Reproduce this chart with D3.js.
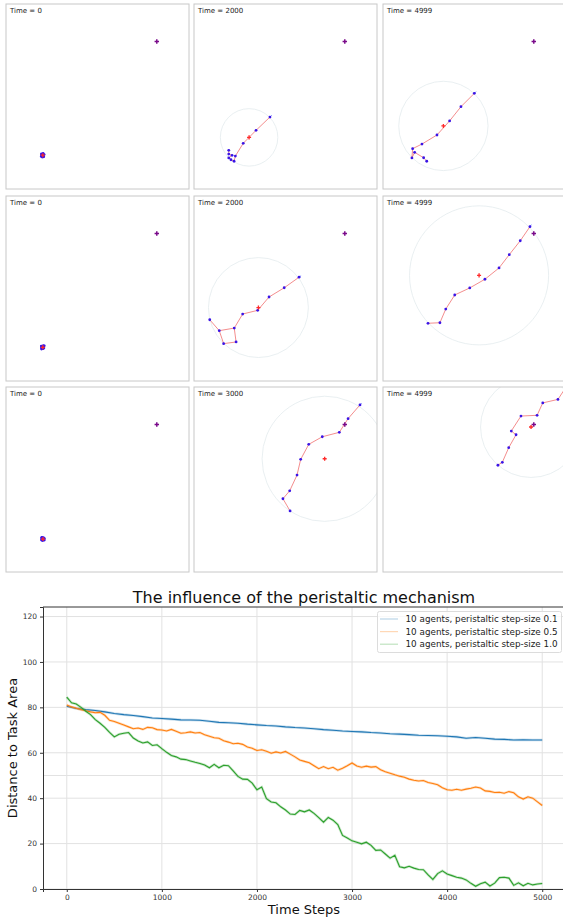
<!DOCTYPE html>
<html>
<head>
<meta charset="utf-8">
<script src="https://cdnjs.cloudflare.com/ajax/libs/d3/7.8.5/d3.min.js"></script>
<style>
body { margin: 0; background: #fff; }
svg { display: block; font-family: "DejaVu Sans", sans-serif; }
</style>
</head>
<body>
<div id="chart"></div>
<script>
var width = 563
var height = 920

// ---- snapshot panels (world coords 0-100) ----
var panel_times = [0, 2000, 4999, 0, 2000, 4999, 0, 3000, 4999]
var task_position = [82.4, 79.7]

var agents_p1 = [[19.4,19.0],[20.3,19.2],[20.8,18.6],[19.6,18.2],[20.5,17.8],[19.3,17.6],[20.1,18.5],[20.6,17.4],[19.8,17.3],[19.5,18.7]]
var agents_p2 = [[41.5,38.9],[33.9,31.7],[26.9,24.7],[22.6,17.8],[21.9,15.0],[20.2,15.8],[19.0,16.8],[20.8,18.2],[19.0,18.9],[19.0,20.9]]
var agents_p3 = [[49.9,51.7],[42.6,44.5],[36.4,36.8],[29.5,29.2],[21.3,24.3],[16.2,21.8],[15.8,16.8],[17.3,19.8],[22.2,16.9],[23.9,15.0]]
var agents_p4 = [[19.3,18.9],[20.4,18.4],[20.9,19.0],[19.6,17.9],[20.2,17.5],[19.4,17.3],[20.7,17.8],[19.9,18.6],[20.4,19.1],[19.5,18.3]]
var agents_p5 = [[57.4,56.1],[49.3,50.4],[41.0,45.4],[34.8,38.2],[26.6,36.2],[22.0,28.6],[23.0,21.1],[16.2,20.2],[13.8,27.2],[8.6,33.1]]
var agents_p6 = [[80.3,83.4],[75.0,75.8],[69.0,68.3],[63.4,61.1],[55.7,55.0],[47.4,50.3],[39.2,46.5],[34.3,38.9],[31.1,31.5],[24.6,31.2]]
var agents_p7 = [[19.5,18.4],[20.4,18.6],[21.0,18.0],[20.8,17.2],[20.0,17.0],[19.4,17.3],[19.7,17.9],[20.5,17.7],[20.2,18.3],[19.6,18.7]]
var agents_p8 = [[90.7,90.3],[84.2,82.9],[79.4,75.5],[70.1,73.1],[62.7,69.0],[58.3,60.9],[56.3,52.4],[52.3,43.9],[48.6,39.6],[52.5,33.0]]
var agents_p9 = [[101.1,101.6],[95.6,93.3],[87.3,91.4],[84.2,84.7],[75.4,84.3],[70.1,76.2],[72.7,74.2],[68.7,67.2],[65.2,59.3],[62.8,57.7]]

var swarm_centres = [[20.1,18.3],[30.1,27.9],[33.0,34.1],[20.1,18.2],[35.2,39.7],[52.5,57.1],[20.2,17.8],[71.4,61.2],[80.9,78.4]]
var swarm_radii = [1.2, 15.7, 24.4, 1.1, 27.3, 38.0, 1.0, 34.2, 27.6]
var extra_links = [[], [], [], [], [[5, 8]], [], [], [], []]

// ---- distance curves ----
var dist_step01 = [80.5,79.5,79.0,78.6,78.0,77.3,76.8,76.4,75.9,75.3,75.1,74.8,74.5,74.4,74.3,73.9,73.4,73.2,73.0,72.6,
  72.3,72.0,71.8,71.4,71.1,70.9,70.6,70.2,69.9,69.6,69.4,69.2,68.9,68.7,68.4,68.2,68.0,67.7,67.6,67.5,
  67.3,67.0,66.4,66.7,66.4,66.0,65.9,65.6,65.7,65.6,65.6]
var dist_step05 = [81.0,80.2,79.6,79.0,78.5,78.0,77.6,77.8,76.5,74.3,73.8,73.0,72.2,71.4,70.6,70.9,70.3,71.2,71.0,70.2,
  70.0,69.6,70.3,69.5,68.6,68.8,69.2,68.7,68.9,67.9,67.3,66.6,66.4,65.3,64.7,64.0,64.2,63.7,62.5,62.0,
  61.0,61.3,60.7,59.8,60.4,59.9,60.6,59.4,58.2,56.8,56.2,55.6,54.3,53.0,53.9,53.0,53.6,52.3,53.2,54.3,
  55.5,54.2,53.6,54.1,53.7,53.9,52.5,51.6,51.0,50.3,49.7,49.2,48.4,47.9,47.6,47.8,46.9,46.5,45.9,44.6,
  43.7,43.5,43.9,43.5,44.0,44.4,44.9,44.5,43.2,43.0,42.5,42.6,42.2,42.9,42.4,40.6,39.6,40.6,40.0,38.4,36.8]
var dist_step10 = [84.5,82.0,81.5,80.0,78.3,76.8,74.6,73.0,71.2,69.0,67.0,68.2,68.6,68.9,66.5,65.2,64.3,64.8,63.2,63.5,
  61.8,60.2,58.8,58.2,57.2,57.0,56.4,55.8,55.3,54.6,53.4,54.9,53.4,54.5,54.3,52.0,49.6,48.4,48.3,46.6,
  43.7,44.9,39.8,38.3,38.0,36.2,34.8,33.0,32.8,34.6,34.0,34.8,33.3,31.4,29.4,31.5,30.3,28.4,23.6,22.5,
  21.2,20.6,19.9,20.6,19.2,17.0,17.2,15.4,13.6,14.8,9.8,9.3,10.0,9.2,8.6,8.5,6.2,4.2,6.8,8.0,
  6.6,5.9,5.2,4.8,4.0,2.5,1.2,2.3,3.0,1.3,2.6,5.0,5.2,4.8,1.6,2.7,1.4,2.5,1.8,2.2,2.4]
var series_labels = ['10 agents, peristaltic step-size 0.1', '10 agents, peristaltic step-size 0.5', '10 agents, peristaltic step-size 1.0']
var series_colors = ['#1f77b4', '#ff7f0e', '#2ca02c']
var x_ticks = [0, 1000, 2000, 3000, 4000, 5000]
var y_ticks = [0, 20, 40, 60, 80, 100, 120]
var y_grid = [0, 20, 40, 50, 60, 80, 100, 120]

var steps_100 = d3.range(0, 5001, 100)
var steps_50 = d3.range(0, 5001, 50)

var svg = d3.select('#chart')
  .append('svg')
  .attr('width', width)
  .attr('height', height)

// ---- 3x3 grid of snapshots ----
var panel_left = [6, 194, 383]
var panel_top = [4, 196, 387]
var panel_w = 183
var panel_h = 185
var all_agents = [agents_p1, agents_p2, agents_p3, agents_p4, agents_p5, agents_p6, agents_p7, agents_p8, agents_p9]

var px = d3.scaleLinear().domain([0, 100]).range([0, panel_w])
var py = d3.scaleLinear().domain([0, 100]).range([panel_h, 0])

var chain_line = d3.line()
  .x(function(d) { return px(d[0]) })
  .y(function(d) { return py(d[1]) })

all_agents.forEach(function(agents, i) {
  var g = svg.append('g')
    .attr('transform', 'translate(' + panel_left[i % 3] + ',' + panel_top[Math.floor(i / 3)] + ')')

  g.append('clipPath')
    .attr('id', 'clip' + i)
    .append('rect')
    .attr('width', panel_w)
    .attr('height', panel_h)

  var inner = g.append('g').attr('clip-path', 'url(#clip' + i + ')')

  // enclosing circle
  inner.append('circle')
    .attr('cx', px(swarm_centres[i][0]))
    .attr('cy', py(swarm_centres[i][1]))
    .attr('r', px(swarm_radii[i]))
    .attr('fill', 'none')
    .attr('stroke', '#e3ebee')
    .attr('stroke-width', 0.8)

  // chain of agents
  inner.append('path')
    .attr('d', chain_line(agents))
    .attr('fill', 'none')
    .attr('stroke', '#f07070')
    .attr('stroke-width', 0.8)

  extra_links[i].forEach(function(l) {
    inner.append('path')
      .attr('d', chain_line([agents[l[0]], agents[l[1]]]))
      .attr('fill', 'none')
      .attr('stroke', '#f07070')
      .attr('stroke-width', 0.8)
  })

  // heading stub of the leading agent
  var a0 = agents[0], a1 = agents[1]
  var dx = px(a0[0]) - px(a1[0]), dy = py(a0[1]) - py(a1[1])
  var len = Math.sqrt(dx * dx + dy * dy) || 1
  if (len > 3) {
    inner.append('line')
      .attr('x1', px(a0[0]))
      .attr('y1', py(a0[1]))
      .attr('x2', px(a0[0]) + dx / len * 2.5)
      .attr('y2', py(a0[1]) + dy / len * 2.5)
      .attr('stroke', '#7a8cff')
      .attr('stroke-width', 1)
  }

  inner.selectAll('.agent')
    .data(agents)
    .enter()
    .append('circle')
    .attr('class', 'agent')
    .attr('cx', function(d) { return px(d[0]) })
    .attr('cy', function(d) { return py(d[1]) })
    .attr('r', 1.4)
    .attr('fill', '#3a14e6')

  inner.append('path')
    .attr('d', d3.symbol().type(d3.symbolCross).size(9)())
    .attr('transform', 'translate(' + px(swarm_centres[i][0]) + ',' + py(swarm_centres[i][1]) + ')')
    .attr('fill', '#ff2a2a')

  inner.append('path')
    .attr('d', d3.symbol().type(d3.symbolCross).size(11)())
    .attr('transform', 'translate(' + px(task_position[0]) + ',' + py(task_position[1]) + ')')
    .attr('fill', '#7a0a8a')

  g.append('rect')
    .attr('width', panel_w)
    .attr('height', panel_h)
    .attr('fill', 'none')
    .attr('stroke', '#c8c8c8')
    .attr('stroke-width', 1)

  g.append('text')
    .attr('x', 4)
    .attr('y', 9)
    .text('Time = ' + panel_times[i])
    .style('font-size', '7px')
    .attr('fill', '#222')
})

// ---- line chart ----
var x = d3.scaleLinear().domain([-250, 5250]).range([43, 566])
var y = d3.scaleLinear().domain([0, 124.2]).range([889, 607])

var plot = svg.append('g')

plot.selectAll('.xgrid')
  .data(x_ticks)
  .enter()
  .append('line')
  .attr('x1', function(d) { return x(d) })
  .attr('x2', function(d) { return x(d) })
  .attr('y1', 607)
  .attr('y2', 889)
  .attr('stroke', '#e2e2e2')
  .attr('stroke-width', 1)

plot.selectAll('.ygrid')
  .data(y_grid)
  .enter()
  .append('line')
  .attr('x1', 43)
  .attr('x2', 566)
  .attr('y1', function(d) { return y(d) })
  .attr('y2', function(d) { return y(d) })
  .attr('stroke', '#e2e2e2')
  .attr('stroke-width', 1)

var dist_line = d3.line()
  .x(function(d) { return x(d[0]) })
  .y(function(d) { return y(d[1]) })

var all_series = [d3.zip(steps_100, dist_step01), d3.zip(steps_50, dist_step05), d3.zip(steps_50, dist_step10)]

all_series.forEach(function(s, i) {
  plot.append('path')
    .attr('d', dist_line(s))
    .attr('fill', 'none')
    .attr('stroke', series_colors[i])
    .attr('stroke-opacity', 0.25)
    .attr('stroke-width', 2.6)
  plot.append('path')
    .attr('d', dist_line(s))
    .attr('fill', 'none')
    .attr('stroke', series_colors[i])
    .attr('stroke-width', 1.1)
})

// axes
plot.append('g')
  .attr('transform', 'translate(0,889)')
  .call(d3.axisBottom(x).tickValues(x_ticks).tickSize(3).tickPadding(3).tickFormat(d3.format('d')))
  .call(function(g) { g.select('.domain').attr('stroke', '#333') })

plot.append('g')
  .attr('transform', 'translate(43,0)')
  .call(d3.axisLeft(y).tickValues(y_ticks).tickSize(3).tickPadding(3))
  .call(function(g) { g.select('.domain').attr('stroke', '#333') })

plot.selectAll('.tick text')
  .style('font-size', '7.5px')
  .style('font-family', '"DejaVu Sans", sans-serif')
  .attr('fill', '#333')
plot.selectAll('.tick line').attr('stroke', '#333')

plot.append('line')
  .attr('x1', 43)
  .attr('x2', 566)
  .attr('y1', 607)
  .attr('y2', 607)
  .attr('stroke', '#333')
  .attr('stroke-width', 1)

svg.append('text')
  .attr('x', 304)
  .attr('y', 603)
  .attr('text-anchor', 'middle')
  .text('The influence of the peristaltic mechanism')
  .style('font-size', '16px')
  .attr('fill', '#111')

svg.append('text')
  .attr('x', 304)
  .attr('y', 914)
  .attr('text-anchor', 'middle')
  .text('Time Steps')
  .style('font-size', '13px')
  .attr('fill', '#111')

svg.append('text')
  .attr('transform', 'translate(17,748) rotate(-90)')
  .attr('text-anchor', 'middle')
  .text('Distance to Task Area')
  .style('font-size', '13px')
  .attr('fill', '#111')

// legend
var legend = svg.append('g')

legend.append('rect')
  .attr('x', 377.5)
  .attr('y', 611.5)
  .attr('width', 184)
  .attr('height', 41)
  .attr('rx', 2)
  .attr('fill', 'rgba(255,255,255,0.8)')
  .attr('stroke', '#dcdcdc')

series_labels.forEach(function(lbl, i) {
  legend.append('line')
    .attr('x1', 380)
    .attr('x2', 398)
    .attr('y1', 619 + i * 12.6)
    .attr('y2', 619 + i * 12.6)
    .attr('stroke', series_colors[i])
    .attr('stroke-opacity', 0.3)
    .attr('stroke-width', 1.2)
  legend.append('text')
    .attr('x', 405.5)
    .attr('y', 622 + i * 12.6)
    .text(lbl)
    .style('font-size', '8.8px')
    .attr('fill', '#222')
})
</script>
</body>
</html>
